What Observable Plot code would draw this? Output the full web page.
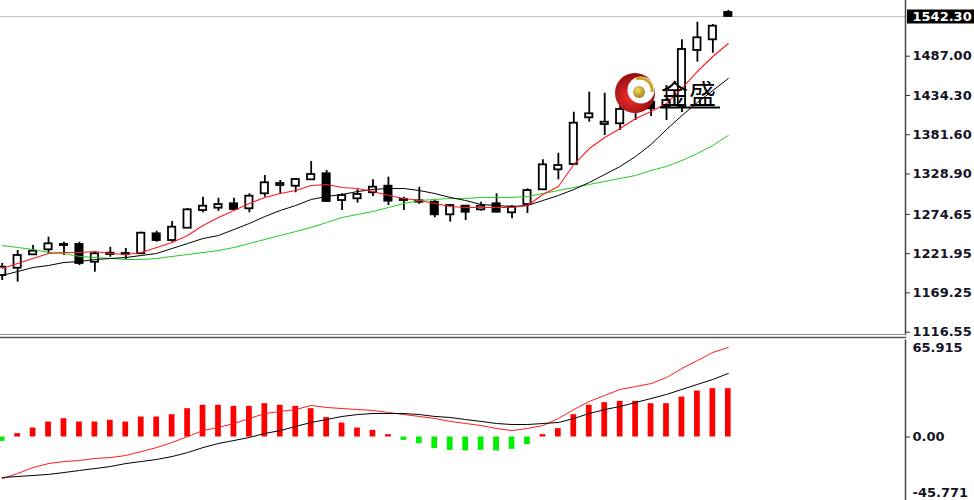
<!DOCTYPE html>
<html><head><meta charset="utf-8">
<script src="https://cdn.jsdelivr.net/npm/d3@7"></script>
<script src="https://cdn.jsdelivr.net/npm/@observablehq/plot@0.6"></script>
<style>
html,body{margin:0;padding:0;background:#fff;overflow:hidden;}
#wrap{position:relative;width:974px;height:500px;overflow:hidden;background:#fff;}
#top,#bottom{position:absolute;left:0;}
#top{top:0;} #bottom{top:336px;}
#logo{position:absolute;left:0;top:0;pointer-events:none;}
</style></head><body>
<div id="wrap"><div id="top"></div><div id="bottom"></div>
<svg id="logo" width="974" height="500">
<defs>
<radialGradient id="rg" cx="40%" cy="60%" r="65%"><stop offset="0" stop-color="#f03030"/><stop offset="1" stop-color="#8a0808"/></radialGradient>
<radialGradient id="gg" cx="40%" cy="35%" r="70%"><stop offset="0" stop-color="#f4dc70"/><stop offset="1" stop-color="#a07810"/></radialGradient>
</defs>
<circle cx="635" cy="93" r="20" fill="url(#rg)"/>
<circle cx="641" cy="90" r="13.5" fill="#fff"/>
<path d="M 636 79 A 12 12 0 0 1 652 92" fill="none" stroke="#c9a42a" stroke-width="3"/>
<circle cx="639" cy="92" r="6" fill="url(#gg)"/>
<text x="661" y="104" font-family="'Noto Sans CJK SC'" font-size="27" font-weight="400" letter-spacing="1" fill="#000">金盛</text>
<line x1="660" y1="107.5" x2="720" y2="107.5" stroke="#000" stroke-width="2"/>
</svg>
</div>
<script>
// ---- price panel (weekly candles) ----
const open  = [1194.6,1204.4,1222.4,1229.1,1236.3,1236.3,1212.5,1222.8,1222.8,1223.8,1250.6,1241.6,1258.1,1281.9,1285.0,1290.9,1284.2,1304.3,1315.5,1314.5,1323.1,1331.2,1295.3,1297.6,1305.7,1314.5,1295.3,1293.0,1293.0,1276.1,1287.7,1282.8,1290.9,1278.8,1289.9,1309.7,1336.5,1343.6,1406.3,1397.3,1398.3,1416.1,1427.3,1421.5,1421.5,1496.7,1511.0,1547.7];
const high  = [1210.8,1228.2,1234.9,1246.1,1239.3,1239.3,1225.9,1232.6,1230.9,1252.8,1254.1,1267.1,1284.6,1299.7,1298.4,1298.4,1304.3,1328.9,1322.2,1324.8,1347.7,1335.6,1304.3,1309.7,1323.1,1326.6,1299.7,1313.2,1295.3,1289.3,1288.6,1293.0,1304.3,1288.6,1311.0,1349.9,1358.8,1413.8,1440.7,1439.3,1429.5,1452.4,1440.3,1449.7,1511.0,1534.6,1531.6,1550.4];
const low   = [1187.9,1185.7,1221.5,1223.8,1221.5,1208.1,1199.1,1219.2,1216.1,1222.8,1239.3,1239.3,1257.7,1278.8,1280.6,1281.9,1278.8,1299.7,1304.3,1305.7,1322.2,1293.0,1281.9,1291.7,1300.7,1288.6,1281.9,1290.3,1272.1,1266.2,1268.5,1281.0,1278.8,1270.8,1277.9,1308.7,1323.1,1342.3,1400.4,1382.6,1389.3,1402.7,1408.1,1402.7,1413.4,1481.0,1493.0,1541.6];
const close = [1205.8,1221.5,1227.3,1237.2,1234.9,1210.8,1223.8,1224.6,1224.2,1251.4,1241.6,1259.5,1282.8,1287.7,1289.9,1283.2,1301.1,1319.1,1318.1,1323.5,1330.2,1294.0,1302.0,1303.4,1313.2,1294.4,1296.7,1294.9,1276.1,1288.6,1279.6,1287.7,1279.6,1286.3,1308.7,1343.2,1342.3,1399.1,1411.7,1400.4,1417.5,1426.9,1418.4,1429.5,1498.0,1513.7,1529.3,1542.3];
const maRed   = [1204.0,1210.8,1217.5,1224.2,1225.5,1225.5,1226.9,1224.2,1222.8,1225.5,1232.2,1238.9,1248.3,1261.8,1272.5,1281.9,1291.3,1299.4,1304.7,1308.7,1315.5,1316.8,1312.8,1311.4,1307.4,1302.0,1298.0,1295.3,1291.3,1287.3,1285.9,1285.9,1285.9,1285.9,1288.6,1303.4,1314.1,1343.6,1365.1,1379.9,1392.0,1405.4,1414.8,1425.5,1445.7,1468.5,1488.6,1506.1];
const maBlack = [1194.7,1200.0,1205.4,1208.1,1212.1,1213.4,1216.1,1217.5,1218.8,1221.5,1224.2,1230.9,1237.6,1244.3,1248.3,1256.4,1264.5,1273.8,1281.9,1288.6,1296.7,1300.7,1303.4,1307.4,1310.1,1311.4,1311.4,1308.7,1304.7,1299.4,1295.3,1290.0,1288.6,1287.3,1288.6,1295.3,1302.0,1310.1,1319.5,1330.2,1341.0,1354.4,1370.5,1390.6,1409.4,1426.9,1443.0,1459.1];
const maGreen = [1234.9,1232.2,1229.6,1225.5,1224.2,1220.2,1218.8,1217.5,1216.1,1216.1,1217.5,1220.2,1222.8,1225.5,1228.2,1232.2,1237.6,1243.0,1248.3,1253.7,1259.1,1265.8,1272.5,1276.5,1280.6,1285.9,1291.3,1295.3,1296.7,1298.0,1298.0,1299.4,1299.4,1299.4,1300.7,1304.7,1308.7,1312.8,1316.8,1320.8,1324.9,1328.9,1335.6,1341.0,1349.0,1358.4,1369.2,1382.6];
const priceTicks = [1487.00,1434.30,1381.60,1328.90,1274.65,1221.95,1169.25,1116.55];
const lastPrice = 1542.30;

// ---- MACD panel ----
const macdHist   = [-3.0,2.3,6.1,10.2,12.5,10.2,10.2,11.4,10.2,13.6,13.6,15.2,19.3,21.6,21.6,20.9,20.9,22.7,21.6,20.9,19.3,13.2,9.5,6.1,4.5,1.6,-2.3,-4.5,-7.9,-9.1,-9.5,-9.1,-9.5,-8.4,-5.2,1.6,5.7,15.2,21.6,23.4,24.3,24.3,22.7,22.7,27.2,31.3,32.9,32.9];
const macdRed    = [-28.3,-24.9,-20.8,-18.1,-16.7,-16.0,-14.6,-14.0,-12.6,-9.9,-7.2,-3.7,0.3,4.4,6.5,9.2,12.6,16.0,17.4,18.7,21.5,20.1,19.4,18.7,18.1,16.7,15.3,14.0,12.6,10.6,9.2,7.8,5.8,4.4,5.8,7.8,12.6,18.7,24.2,28.3,32.4,34.4,36.4,40.5,46.7,52.1,57.6,61.0];
const macdBlack  = [-27.6,-26.9,-26.2,-25.5,-24.2,-22.8,-21.5,-20.1,-18.1,-16.7,-15.3,-13.3,-10.6,-7.2,-4.4,-2.4,-0.3,2.4,4.4,7.2,9.9,11.9,14.0,15.3,16.0,16.0,16.0,15.3,14.0,13.3,11.9,10.6,9.2,8.5,8.5,9.2,9.9,12.6,16.0,18.7,20.8,23.5,26.2,29.0,32.4,35.8,39.2,43.3];
const macdTicks = [0];
const macdMax = 65.915, macdMin = -45.771;

const bars = open.map((o, i) => ({
  i, open: o, high: high[i], low: low[i], close: close[i],
  maRed: maRed[i], maBlack: maBlack[i], maGreen: maGreen[i],
  hist: macdHist[i], macd: macdRed[i], signal: macdBlack[i]
}));

const xDomain = [-0.11, 58.47];
const font = "bold 13px 'DejaVu Sans', Verdana, sans-serif";
const fmt2 = d => d.toFixed(2);

const topPlot = Plot.plot({
  width: 974, height: 336,
  marginLeft: 0, marginRight: 69, marginTop: 0, marginBottom: 2,
  style: {background: "transparent", font, overflow: "visible"},
  x: {domain: xDomain, axis: null},
  y: {domain: [1115.45, 1563.78], axis: null},
  marks: [
    Plot.ruleY([lastPrice], {stroke: "#c4c4c4", strokeWidth: 1}),
    Plot.ruleX(bars, {x: "i", y1: "low", y2: "high", stroke: "#000", strokeWidth: 1.8}),
    Plot.rect(bars, {
      x1: d => d.i - 0.235, x2: d => d.i + 0.235, y1: "open", y2: "close",
      fill: d => d.close >= d.open ? "#fff" : "#000", stroke: "#000", strokeWidth: 1.8
    }),
    Plot.line(bars, {x: "i", y: "maGreen", stroke: "#22cc22", strokeWidth: 1}),
    Plot.line(bars, {x: "i", y: "maBlack", stroke: "#000", strokeWidth: 1}),
    Plot.line(bars, {x: "i", y: "maRed", stroke: "#ff1a1a", strokeWidth: 1.1}),
    Plot.axisY(priceTicks, {anchor: "right", tickSize: 4, tickPadding: 3, tickFormat: fmt2, fill: "#141428", stroke: "#333", dy: -1.5}),
    Plot.frame({anchor: "right", stroke: "#444", strokeWidth: 1.5}),
    Plot.frame({anchor: "bottom", stroke: "#888"}),
    Plot.ruleY([lastPrice], {x1: 58.6, x2: 64, stroke: "#000", strokeWidth: 14}),
    Plot.text([lastPrice], {y: d => d, text: fmt2, frameAnchor: "right", dx: 7, textAnchor: "start", fill: "#fff"})
  ]
});
document.getElementById("top").appendChild(topPlot);

const botPlot = Plot.plot({
  width: 974, height: 170,
  marginLeft: 0, marginRight: 69, marginTop: 3.74, marginBottom: 2.3,
  style: {background: "transparent", font, overflow: "visible"},
  x: {domain: xDomain, axis: null},
  y: {domain: [macdMin, macdMax], axis: null},
  marks: [
    Plot.frame({anchor: "top", stroke: "#555", strokeWidth: 1.5, dy: -2.7}),
    Plot.rect(bars, {
      x1: d => d.i - 0.185, x2: d => d.i + 0.185, y1: 0, y2: "hist",
      fill: d => d.hist >= 0 ? "#ff0000" : "#00ee00"
    }),
    Plot.line(bars, {x: "i", y: "macd", stroke: "#ff1a1a", strokeWidth: 1}),
    Plot.line(bars, {x: "i", y: "signal", stroke: "#000", strokeWidth: 1}),
    Plot.axisY(macdTicks, {anchor: "right", tickSize: 4, tickPadding: 3, tickFormat: fmt2, fill: "#141428", stroke: "#333"}),
    Plot.text([macdMax], {y: d => d, text: d => d.toFixed(3), frameAnchor: "right", dx: 7, dy: 7.5, textAnchor: "start", fill: "#141428"}),
    Plot.text([macdMin], {y: d => d, text: d => d.toFixed(3), frameAnchor: "right", dx: 7, dy: -11, textAnchor: "start", fill: "#141428"}),
    Plot.frame({anchor: "right", stroke: "#444", strokeWidth: 1.5})
  ]
});
document.getElementById("bottom").appendChild(botPlot);
</script>
</body></html>
